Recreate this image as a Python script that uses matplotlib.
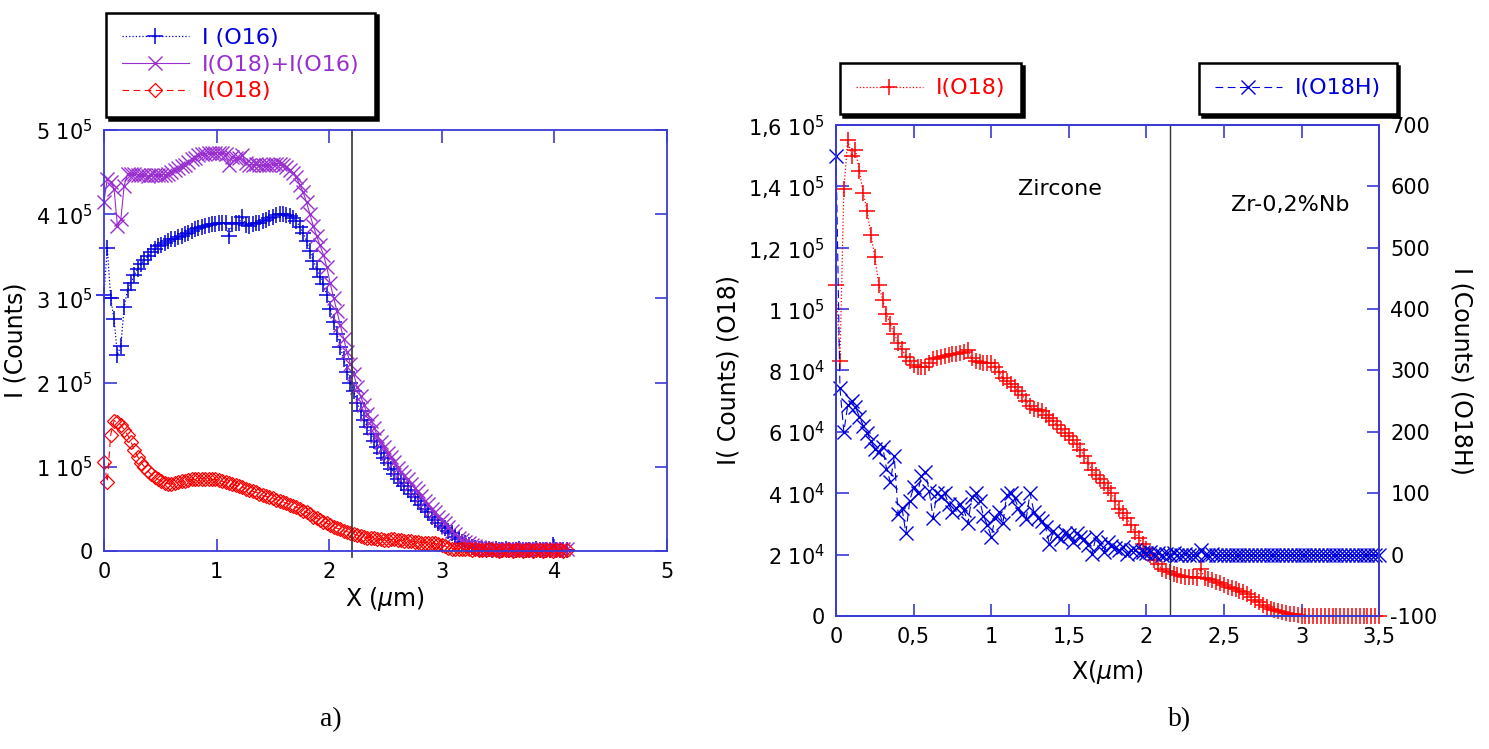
import matplotlib
matplotlib.use('Agg')
import matplotlib.pyplot as plt
import numpy as np

# ---- panel a) : depth profiles, values in units of 1e5 counts ----
x_step_a = 0.03
o16_a = [3.04, 3.60, 3.00, 2.75, 2.33, 2.44, 2.90, 3.10, 3.18, 3.28,
         3.35, 3.41, 3.46, 3.50, 3.55, 3.59, 3.62, 3.64, 3.66, 3.68,
         3.70, 3.71, 3.73, 3.74, 3.76, 3.78, 3.80, 3.82, 3.84, 3.85,
         3.86, 3.87, 3.88, 3.88, 3.89, 3.90, 3.89, 3.74, 3.88, 3.89,
         3.90, 3.97, 3.87, 3.86, 3.88, 3.90, 3.90, 3.92, 3.93, 3.95,
         3.97, 3.99, 4.00, 4.00, 3.99, 3.98, 3.96, 3.92, 3.85, 3.78,
         3.68, 3.56, 3.45, 3.35, 3.26, 3.17, 3.04, 2.87, 2.72, 2.58,
         2.42, 2.28, 2.13, 2.00, 1.90, 1.76, 1.66, 1.56, 1.47, 1.39,
         1.31, 1.23, 1.16, 1.10, 1.04, 0.98, 0.92, 0.86, 0.81, 0.77,
         0.73, 0.68, 0.64, 0.60, 0.55, 0.50, 0.46, 0.41, 0.37, 0.33,
         0.30, 0.27, 0.24, 0.21, 0.17, 0.14, 0.11, 0.09, 0.07, 0.05,
         0.04, 0.03, 0.02, 0.02, 0.02, 0.01, 0.02, 0.01, 0.01, 0.02,
         0.01, 0.01, 0.01, 0.02, 0.01, 0.01, 0.01, 0.01, 0.02, 0.01,
         0.01, 0.01, 0.01, 0.07, 0.01, 0.01, 0.01, 0.01]
sum_a = [4.15, 4.42, 4.38, 4.30, 3.86, 3.94, 4.34, 4.48, 4.48, 4.48,
         4.47, 4.46, 4.46, 4.45, 4.46, 4.47, 4.47, 4.47, 4.47, 4.48,
         4.50, 4.52, 4.55, 4.57, 4.59, 4.62, 4.65, 4.67, 4.70, 4.71,
         4.72, 4.73, 4.73, 4.73, 4.73, 4.73, 4.71, 4.58, 4.68, 4.67,
         4.67, 4.70, 4.61, 4.58, 4.59, 4.60, 4.58, 4.58, 4.58, 4.59,
         4.60, 4.60, 4.60, 4.58, 4.56, 4.53, 4.49, 4.44, 4.35, 4.26,
         4.14, 4.00, 3.86, 3.74, 3.63, 3.52, 3.37, 3.18, 3.01, 2.85,
         2.68, 2.52, 2.36, 2.22, 2.10, 1.95, 1.84, 1.73, 1.63, 1.55,
         1.46, 1.37, 1.30, 1.23, 1.17, 1.12, 1.06, 0.99, 0.94, 0.89,
         0.85, 0.80, 0.75, 0.71, 0.65, 0.60, 0.56, 0.50, 0.46, 0.41,
         0.37, 0.33, 0.28, 0.24, 0.20, 0.16, 0.13, 0.11, 0.09, 0.07,
         0.06, 0.05, 0.04, 0.04, 0.03, 0.03, 0.03, 0.03, 0.02, 0.03,
         0.02, 0.02, 0.02, 0.03, 0.02, 0.02, 0.02, 0.02, 0.03, 0.02,
         0.02, 0.02, 0.02, 0.03, 0.02, 0.02, 0.02, 0.02]
o18_a = [1.06, 0.82, 1.38, 1.55, 1.53, 1.50, 1.44, 1.38, 1.30, 1.20,
         1.12, 1.05, 1.00, 0.95, 0.91, 0.88, 0.85, 0.83, 0.81, 0.80,
         0.80, 0.81, 0.82, 0.83, 0.83, 0.84, 0.85, 0.85, 0.86, 0.86,
         0.86, 0.86, 0.85, 0.85, 0.84, 0.83, 0.82, 0.81, 0.80, 0.78,
         0.77, 0.76, 0.74, 0.72, 0.71, 0.70, 0.68, 0.66, 0.65, 0.64,
         0.63, 0.61, 0.60, 0.58, 0.57, 0.55, 0.53, 0.52, 0.50, 0.48,
         0.46, 0.44, 0.41, 0.39, 0.37, 0.35, 0.33, 0.31, 0.29, 0.27,
         0.26, 0.24, 0.23, 0.22, 0.20, 0.19, 0.18, 0.17, 0.16, 0.16,
         0.15, 0.14, 0.14, 0.13, 0.13, 0.14, 0.14, 0.13, 0.13, 0.12,
         0.12, 0.12, 0.11, 0.11, 0.10, 0.10, 0.10, 0.09, 0.09, 0.08,
         0.07, 0.06, 0.04, 0.03, 0.03, 0.02, 0.02, 0.02, 0.02, 0.01,
         0.02, 0.01, 0.01, 0.01, 0.02, 0.01, 0.01, 0.00, 0.01, 0.01,
         0.01, 0.00, 0.01, 0.01, 0.00, 0.01, 0.01, 0.00, 0.01, 0.01,
         0.00, 0.01, 0.01, 0.00, 0.01, 0.01, 0.00, 0.01]
interface_a = 2.2
yticks_a = [0, 1e5, 2e5, 3e5, 4e5, 5e5]
ylabels_a = ['0', '1 10$^5$', '2 10$^5$', '3 10$^5$', '4 10$^5$', '5 10$^5$']

# ---- panel b) : O18 (thousands of counts) and O18H (counts) ----
x_step_b = 0.025
o18_b = [108, 83, 139, 155, 150, 152, 145, 138, 132, 124,
         117, 108, 103, 98.5, 95, 92, 89, 87, 84.5, 83,
         81.8, 81.2, 81, 81.3, 82.5, 83.7, 84, 84.3, 84.6, 85,
         85.3, 85.5, 85.6, 86, 86.8, 84, 83.1, 82.8, 82.5, 82.5,
         82.3, 81, 79.5, 77.5, 76.5, 75.6, 74.5, 73.3, 72, 70,
         68.4, 67.6, 67.2, 66.8, 65.5, 64.6, 63.6, 62.2, 61, 59.7,
         58.5, 57.2, 56, 54.2, 52.2, 49.8, 47.6, 45.8, 44.5, 43.3,
         41.8, 40, 37.5, 35, 33.4, 31.8, 29.5, 27.3, 25.5, 23.6,
         21.8, 20, 18.2, 16.8, 15.4, 14.6, 14.2, 13.8, 13.3, 12.9,
         12.8, 12.7, 12.6, 12.5, 15.3, 12.3, 12.1, 11.6, 11, 10.6,
         10.1, 9.6, 9.1, 8.7, 8.2, 7.7, 7.2, 6.3, 5.3, 4.4,
         3.5, 2.9, 2.3, 1.9, 1.6, 1.4, 1.0, 0.8, 0.5, 0.3,
         0.1, 0, 0, 0, 0, 0, 0, 0, 0, 0,
         0, 0, 0, 0, 0, 0, 0, 0, 0, 0,
         0]
o18h_b = [650, 271, 200, 243, 250, 240, 225, 210, 198, 185,
          172, 168, 176, 140, 118, 160, 66, 76, 35, 88,
          110, 100, 128, 135, 104, 60, 100, 95, 100, 82,
          70, 76, 82, 72, 51, 94, 100, 88, 63, 48,
          29, 60, 70, 51, 97, 100, 92, 76, 66, 58,
          100, 70, 60, 54, 45, 17, 38, 30, 26, 35,
          32, 20, 35, 28, 26, 15, 1, 29, 18, 4,
          20, 14, 10, 7, 12, 1, 8, 7, 3, 5,
          2, 4, 1, 3, 0, 1, 0, 2, 0, 0,
          1, 0, 0, 0, 8, 0, 0, 1, 0, 0,
          0, 0, 0, 0, 0, 0, 0, 0, 0, 0,
          0, 0, 0, 0, 0, 0, 0, 0, 0, 0,
          0, 0, 0, 0, 0, 0, 0, 0, 0, 0,
          0, 0, 0, 0, 0, 0, 0, 0, 0, 0,
          0]
interface_b = 2.15
yticks_b = [0, 2e4, 4e4, 6e4, 8e4, 1e5, 1.2e5, 1.4e5, 1.6e5]
ylabels_b = ['0', '2 10$^4$', '4 10$^4$', '6 10$^4$', '8 10$^4$',
             '1 10$^5$', '1,2 10$^5$', '1,4 10$^5$', '1,6 10$^5$']
xticks_b = [0, 0.5, 1, 1.5, 2, 2.5, 3, 3.5]
xlabels_b = ['0', '0,5', '1', '1,5', '2', '2,5', '3', '3,5']
yticks_b2 = [-100, 0, 100, 200, 300, 400, 500, 600, 700]

BLUE = '#0000dd'
PURPLE = '#9a2fd0'
RED = '#ff0000'
FRAME = '#3a3ad8'

plt.rcParams['font.family'] = ['DejaVu Sans']
plt.rcParams['mathtext.fontset'] = 'dejavusans'
plt.rcParams['axes.unicode_minus'] = False

fig = plt.figure(figsize=(14.89, 7.49), dpi=100)


def style_axes(ax):
    for s in ax.spines.values():
        s.set_color(FRAME)
        s.set_linewidth(1.3)
    ax.tick_params(direction='in', color=FRAME, length=9, width=1.2,
                   labelsize=15, pad=8)


def boxed_legend(parent, handles, anchor):
    lg = parent.legend(handles=handles, loc='upper left', bbox_to_anchor=anchor,
                       bbox_transform=fig.transFigure, fontsize=16,
                       labelcolor='linecolor', fancybox=False, edgecolor='black',
                       framealpha=1, shadow={'color': 'black', 'alpha': 1},
                       handlelength=3.0, handletextpad=0.6, borderpad=0.7,
                       labelspacing=0.3)
    lg.get_frame().set_linewidth(1.8)
    return lg


# ---------- a) ----------
ax1 = fig.add_axes([0.0698, 0.2643, 0.378, 0.5621])
xa = np.arange(len(o16_a)) * x_step_a
h1, = ax1.plot(xa, np.array(o16_a) * 1e5, ls=':', lw=0.9, color=BLUE, marker='+',
               ms=12, mew=1.1, label='I (O16)', clip_on=False)
h2, = ax1.plot(xa, np.array(sum_a) * 1e5, ls='-', lw=0.8, color=PURPLE, marker='x',
               ms=10.5, mew=1.0, label='I(O18)+I(O16)', clip_on=False)
h3, = ax1.plot(xa, np.array(o18_a) * 1e5, ls=(0, (6, 4)), lw=0.8, color=RED,
               marker='D', ms=7.5, mfc='none', mew=0.9, label='I(O18)', clip_on=False)
ax1.axvline(interface_a, color='#333333', lw=1.2, ymin=-0.015, ymax=1, clip_on=False)
ax1.set_xlim(0, 5)
ax1.set_ylim(0, 5e5)
ax1.set_yticks(yticks_a)
ax1.set_yticklabels(ylabels_a)
ax1.set_xticks([0, 1, 2, 3, 4, 5])
ax1.tick_params(top=True, right=True)
style_axes(ax1)
ax1.set_xlabel('X ($\\mu$m)', fontsize=17, labelpad=2)
ax1.set_ylabel('I (Counts)', fontsize=17, labelpad=6)
boxed_legend(ax1, [h1, h2, h3], (0.064, 0.998))
fig.text(0.222, 0.03, 'a)', fontsize=20, family='Liberation Serif', ha='center')

# ---------- b) ----------
ax2 = fig.add_axes([0.5615, 0.1776, 0.3647, 0.6555])
xb = np.arange(len(o18_b)) * x_step_b
l1, = ax2.plot(xb, np.array(o18_b) * 1e3, ls=':', lw=0.9, color=RED, marker='+',
               ms=12, mew=1.1, label='I(O18)', clip_on=False)
ax2.axvline(interface_b, color='#333333', lw=1.0)
ax2.set_xlim(0, 3.5)
ax2.set_ylim(0, 1.6e5)
ax2.set_yticks(yticks_b)
ax2.set_yticklabels(ylabels_b)
ax2.set_xticks(xticks_b)
ax2.set_xticklabels(xlabels_b)
ax2.tick_params(top=True)
style_axes(ax2)
ax2.set_xlabel('X($\\mu$m)', fontsize=17, labelpad=8)
ax2.set_ylabel('I( Counts) (O18)', fontsize=17, labelpad=6)
ax2.text(1.44, 1.39e5, 'Zircone', fontsize=16, ha='center', va='center')
ax2.text(2.93, 1.34e5, 'Zr-0,2%Nb', fontsize=16, ha='center', va='center')

ax3 = ax2.twinx()
l2, = ax3.plot(xb, o18h_b, ls=(0, (7, 4)), lw=0.8, color=BLUE, marker='x',
               ms=10.5, mew=1.0, label='I(O18H)', clip_on=False)
ax3.set_ylim(-100, 700)
ax3.set_yticks(yticks_b2)
style_axes(ax3)
ax3.set_ylabel('I (Counts) (O18H)', fontsize=17, rotation=270, labelpad=26)

boxed_legend(fig, [l1], (0.557, 0.931))
boxed_legend(fig, [l2], (0.798, 0.931))
fig.text(0.792, 0.03, 'b)', fontsize=20, family='Liberation Serif', ha='center')

fig.savefig('out.png', dpi=100)
